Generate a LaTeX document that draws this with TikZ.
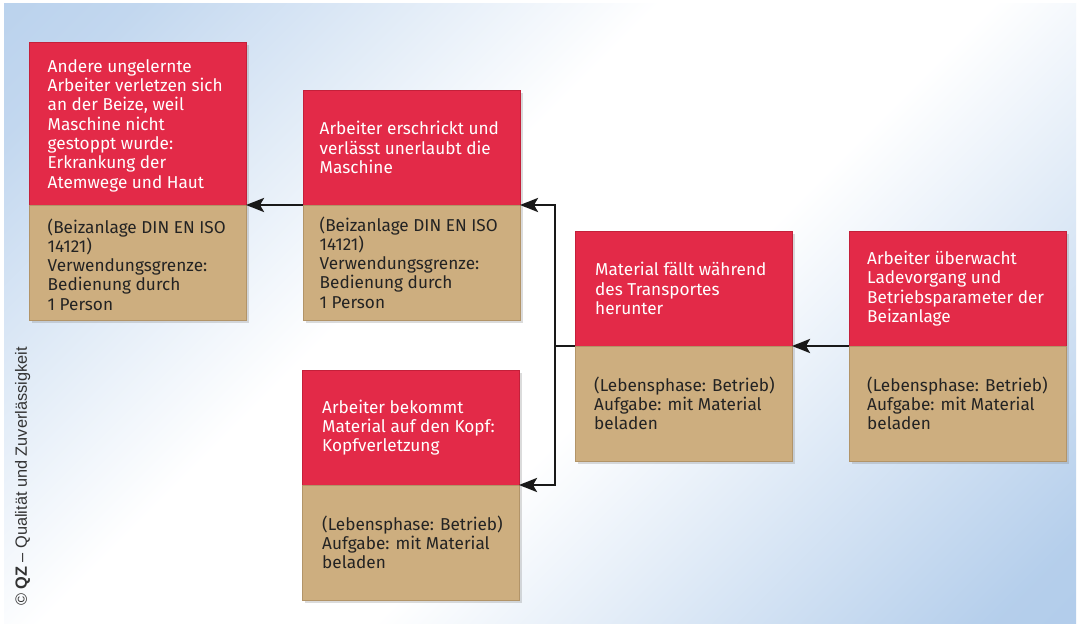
\documentclass[tikz,border=0pt]{standalone}
\usepackage{fontspec}
\setmainfont{Fira Sans}
\newfontfamily\arialfont{Liberation Sans}
\usetikzlibrary{arrows.meta,shadows,calc}
\definecolor{boxred}{RGB}{227,42,72}
\definecolor{boxredd}{RGB}{196,32,58}
\definecolor{boxtan}{RGB}{205,174,127}
\definecolor{boxtand}{RGB}{178,148,104}
\definecolor{bgblue}{RGB}{168,198,232}
\definecolor{txtdark}{RGB}{35,35,35}
\definecolor{txtgray}{RGB}{50,50,50}
\definecolor{linedark}{RGB}{25,25,25}
\pgfdeclareverticalshading{bgshade}{100bp}{color(0bp)=(bgblue); color(18bp)=(bgblue!85!white); color(44bp)=(white); color(58bp)=(white); color(80bp)=(bgblue!70!white); color(100bp)=(bgblue)}
\begin{document}
\begin{tikzpicture}[x=1pt,y=-1pt,
  basebox/.style={rectangle, line width=0.7pt, minimum width=217pt,
    inner sep=0pt, outer sep=0pt, anchor=north west,
    drop shadow={shadow xshift=3pt,shadow yshift=-3pt,opacity=0.28}},
  redbox/.style={basebox, fill=boxred, draw=boxredd, minimum height=115pt},
  tanbox/.style={basebox, fill=boxtan, draw=boxtand, minimum height=115pt},
  redtxt/.style={anchor=west, align=left, inner sep=0pt, text=white,
    font=\fontsize{17.2}{19.3}\selectfont},
  tantxt/.style={anchor=west, align=left, inner sep=0pt, text=txtdark,
    font=\fontsize{17.2}{19.3}\selectfont},
  conn/.style={draw=linedark, line width=2.8pt},
  arr/.style={conn, -{Stealth[length=18pt,width=14pt,inset=4pt]}}
]
\useasboundingbox (0,0) rectangle (1080,628);
\fill[white] (0,0) rectangle (1080,628);
\shade[shading=bgshade, shading angle=45] (4,4) rectangle (1076,623);

% Box A
\node[redbox, minimum height=163pt] (Ar) at (29,42) {};
\node[tanbox] (At) at (Ar.south west) {};
% Box B
\node[redbox] (Br) at (303,90) {};
\node[tanbox] (Bt) at (Br.south west) {};
% Box C
\node[redbox] (Cr) at (575,231) {};
\node[tanbox] (Ct) at (Cr.south west) {};
% Box D
\node[redbox] (Dr) at (849,231) {};
\node[tanbox] (Dt) at (Dr.south west) {};
% Box E
\node[redbox] (Er) at (302,370) {};
\node[tanbox] (Et) at (Er.south west) {};

% texts
\node[redtxt] (Art) at ($(Ar.west)+(18.5,2)$) {Andere ungelernte\\Arbeiter verletzen sich\\an der Beize, weil\\Maschine nicht\\gestoppt wurde:\\Erkrankung der\\Atemwege und Haut};
\node[tantxt] (Att) at ($(At.west)+(18.5,2)$) {(Beizanlage DIN EN ISO\\14121)\\Verwendungsgrenze:\\Bedienung durch\\1 Person};
\node[redtxt] (Brt) at ($(Br.west)+(16.5,0)$) {Arbeiter erschrickt und\\verlässt unerlaubt die\\Maschine};
\node[tantxt] (Btt) at ($(Bt.west)+(16.5,0)$) {(Beizanlage DIN EN ISO\\14121)\\Verwendungsgrenze:\\Bedienung durch\\1 Person};
\node[redtxt] (Crt) at ($(Cr.west)+(20,0)$) {Material fällt während\\des Transportes\\herunter};
\node[tantxt] (Ctt) at ($(Ct.west)+(19,0)$) {(Lebensphase: Betrieb)\\Aufgabe: mit Material\\beladen};
\node[redtxt] (Drt) at ($(Dr.west)+(18,0)$) {Arbeiter überwacht\\Ladevorgang und\\Betriebsparameter der\\Beizanlage};
\node[tantxt] (Dtt) at ($(Dt.west)+(18,0)$) {(Lebensphase: Betrieb)\\Aufgabe: mit Material\\beladen};
\node[redtxt] (Ert) at ($(Er.west)+(20,0)$) {Arbeiter bekommt\\Material auf den Kopf:\\Kopfverletzung};
\node[tantxt] (Ett) at ($(Et.west)+(20,0)$) {(Lebensphase: Betrieb)\\Aufgabe: mit Material\\beladen};

% connectors
\coordinate (j) at ($(Cr.south west)+(-20,0)$);
\draw[conn] (Cr.south west) -- (j);
\draw[arr] (j) |- (Br.south east);
\draw[arr] (j) |- (Er.south east);
\draw[arr] (Br.south west) -- (Ar.south east);
\draw[arr] (Dr.south west) -- (Cr.south east);

% copyright
\node[rotate=90, anchor=base west, inner sep=0pt, text=txtgray,
  font=\arialfont\fontsize{16.3}{19}\selectfont] (qz) at (27,606)
  {\textcopyright{} \textbf{QZ} – Qualität und Zuverlässigkeit};
\end{tikzpicture}
\end{document}
